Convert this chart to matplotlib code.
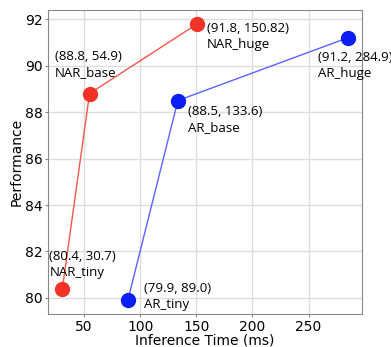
import matplotlib
matplotlib.use('Agg')
import matplotlib.pyplot as plt

# NAR models
nar_names = ['NAR_tiny', 'NAR_base', 'NAR_huge']
nar_time = [30.7, 54.9, 150.82]
nar_perf = [80.4, 88.8, 91.8]

# AR models
ar_names = ['AR_tiny', 'AR_base', 'AR_huge']
ar_time = [89.0, 133.6, 284.9]
ar_perf = [79.9, 88.5, 91.2]

# label offsets in pixels (dx, dy)
nar_offs = [(-13, 24), (-35, 29), (10, -13)]
ar_offs = [(16, 4), (10, -19), (-30, -28)]

plt.rcParams['font.family'] = 'DejaVu Sans'
fig, ax = plt.subplots(figsize=(3.91, 3.47), dpi=100)
fig.subplots_adjust(left=0.123, right=0.926, top=0.971, bottom=0.095)

ax.plot(nar_time, nar_perf, '-', color='#f5544a', lw=1.0, zorder=2)
ax.plot(nar_time, nar_perf, 'o', color='#f03326', ms=10, zorder=3)
ax.plot(ar_time, ar_perf, '-', color='#5a62ff', lw=1.0, zorder=2)
ax.plot(ar_time, ar_perf, 'o', color='#0a1ef5', ms=10, zorder=3)

for name, t, p, off in zip(nar_names, nar_time, nar_perf, nar_offs):
    ax.annotate('(%s, %s)\n%s' % (p, t, name), (t, p), xytext=off,
                textcoords='offset pixels', ha='left', va='center',
                fontsize=9.5, family='Open Sans', linespacing=1.3)
for name, t, p, off in zip(ar_names, ar_time, ar_perf, ar_offs):
    ax.annotate('(%s, %s)\n%s' % (p, t, name), (t, p), xytext=off,
                textcoords='offset pixels', ha='left', va='center',
                fontsize=9.5, family='Open Sans', linespacing=1.3)

ax.set_xticks([50, 100, 150, 200, 250])
ax.set_yticks([80, 82, 84, 86, 88, 90, 92])
ax.tick_params(labelsize=10, color='#888888', length=2.5, pad=1.5)
ax.set_xlabel('Inference Time (ms)', fontsize=10, labelpad=0)
ax.set_ylabel('Performance', fontsize=10, labelpad=1)
ax.grid(True, color='#dddddd', lw=1.0)
ax.set_axisbelow(True)
for s in ax.spines.values():
    s.set_color('#888888')

fig.savefig('out.png', dpi=100)
